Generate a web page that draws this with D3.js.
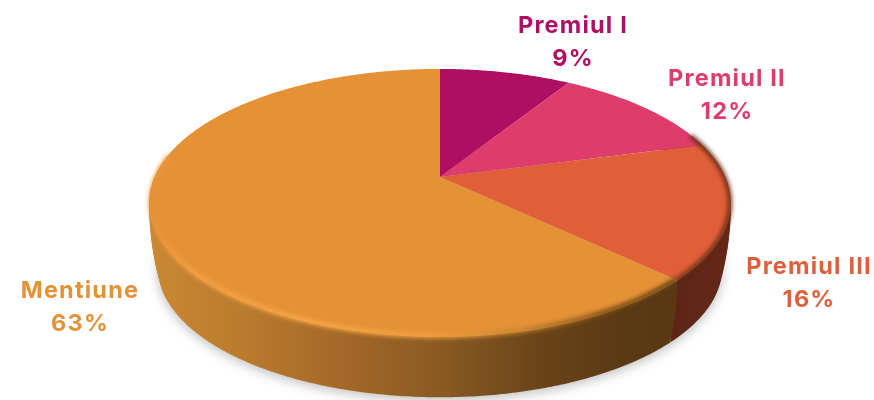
<!DOCTYPE html>
<html>
<head>
<meta charset="utf-8">
<script src="https://cdn.jsdelivr.net/npm/d3@7"></script>
<style>
  html, body { margin: 0; padding: 0; background: #fff; }
  svg { display: block; filter: blur(0.45px); }
  text { font-family: Inter, sans-serif; font-weight: 700; font-size: 23.5px; letter-spacing: 1.2px; text-anchor: middle; }
</style>
</head>
<body>
<svg id="chart"></svg>
<script>
const categories = ['Premiul I', 'Premiul II', 'Premiul III', 'Mentiune'];
const shares = [8.8, 12.0, 16.4, 62.8];
const colors = ['#b00e62', '#de3c6c', '#e05f38', '#e59136'];

// label anchors, not data
const labelPos = [[573, 33], [727, 86], [809, 274], [80, 298]];

const width = 874, height = 400;

// the disc is seen in perspective, so the apex is not the middle of the ellipse
const apex = { x: 440, y: 177 };
const k = 0.194, scaleU = 285.5, scaleV = 129;
const depth = 65, lowerShrink = 0.03;

function project(angle, s = 1, dy = 0) {
  const u = Math.sin(angle), v = -Math.cos(angle);
  const w = 1 - k * v;
  return [apex.x + s * scaleU * u / w, apex.y + dy + s * scaleV * v / w];
}

function ring(a0, a1, s, dy) {
  const n = Math.max(2, Math.ceil(Math.abs(a1 - a0) / 0.01));
  return d3.range(n + 1).map(i => project(a0 + (a1 - a0) * i / n, s, dy));
}

const line = d3.line();
const deg = d3.scaleLinear().domain([0, 360]).range([0, 2 * Math.PI]);

const color = d3.scaleOrdinal().domain(categories).range(colors);
const slices = d3.pie().sort(null).value(d => d.value)(
  categories.map((name, i) => ({ name, value: shares[i] }))
);

const svg = d3.select('#chart').attr('width', width).attr('height', height);
const defs = svg.append('defs');

function gradient(id, stops) {
  const g = defs.append('linearGradient').attr('id', id)
    .attr('gradientUnits', 'userSpaceOnUse')
    .attr('x1', 150).attr('x2', 732).attr('y1', 0).attr('y2', 0);
  stops.forEach(s => g.append('stop')
    .attr('offset', (s[0] - 150) / 582).attr('stop-color', s[1]));
}

gradient('wallOrange', [[150, '#cc8833'], [250, '#b87a2e'], [340, '#a56828'], [440, '#8a5a22'], [540, '#6a4418'], [620, '#5a3a14'], [732, '#583812']]);
gradient('wallRed', [[660, '#5c2416'], [732, '#652818']]);
gradient('rimOrange', [[150, '#e59136'], [190, '#f2a044'], [300, '#f7a646'], [430, '#f0a040'], [520, '#c98430'], [600, '#7d5218'], [680, '#5f3e14']]);

[['blur1', 2], ['blurShadow', 6]].forEach(([id, sd]) => {
  defs.append('filter').attr('id', id)
    .attr('x', '-20%').attr('y', '-20%').attr('width', '140%').attr('height', '140%')
    .append('feGaussianBlur').attr('stdDeviation', sd);
});

const redEnd = slices[2].endAngle;

// soft shadow under the disc
svg.append('path')
  .attr('d', line(ring(0, 2 * Math.PI, 1 - lowerShrink, depth + 3)) + 'Z')
  .attr('fill', '#a8a8a8')
  .attr('opacity', 0.75)
  .attr('filter', 'url(#blurShadow)');

// side walls, drawn as stacked bands so the edge stays upright and curves in near the bottom
function wall(a0, a1, fill) {
  const g = svg.append('g').attr('fill', fill);
  d3.range(1, 9).map(i => i / 8).forEach(t => {
    const pts = ring(a0, a1, 0.995, 0).concat(ring(a1, a0, 1 - lowerShrink * t * t, depth * t));
    g.append('path').attr('d', line(pts) + 'Z');
  });
}
wall(deg(60), redEnd, 'url(#wallRed)');
wall(redEnd, deg(284), 'url(#wallOrange)');

// top face
svg.selectAll('path.slice')
  .data(slices)
  .join('path')
  .attr('class', 'slice')
  .attr('fill', d => color(d.data.name))
  .attr('d', d => line([[apex.x, apex.y]].concat(ring(d.startAngle, d.endAngle, 1, 0))) + 'Z');

// bevel along the front edge
svg.append('path')
  .attr('d', line(ring(redEnd, deg(280), 0.992, 0)))
  .attr('fill', 'none')
  .attr('stroke', 'url(#rimOrange)')
  .attr('stroke-width', 5)
  .attr('filter', 'url(#blur1)');
svg.append('path')
  .attr('d', line(ring(deg(70), redEnd, 0.996, 0)))
  .attr('fill', 'none')
  .attr('stroke', '#5e2a16')
  .attr('stroke-width', 4)
  .attr('filter', 'url(#blur1)');

// labels
const labels = svg.selectAll('text.label')
  .data(slices)
  .join('text')
  .attr('class', 'label')
  .attr('fill', d => color(d.data.name))
  .attr('transform', (d, i) => `translate(${labelPos[i][0]},${labelPos[i][1]})`);
labels.append('tspan').attr('x', 0).attr('y', 0).text(d => d.data.name);
labels.append('tspan').attr('x', 0).attr('y', 33).text(d => Math.round(d.data.value) + '%');
</script>
</body>
</html>
